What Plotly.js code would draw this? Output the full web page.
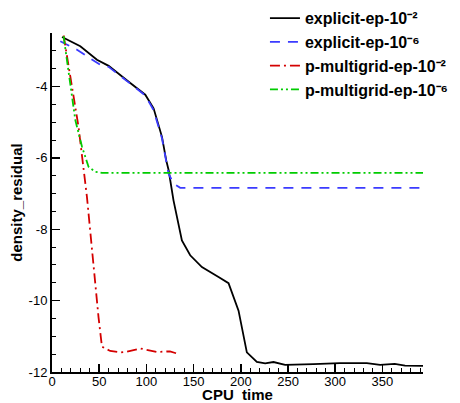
<!DOCTYPE html>
<html>
<head>
<meta charset="utf-8">
<script src="https://cdn.plot.ly/plotly-3.0.1.min.js"></script>
<style>html,body{margin:0;padding:0;background:#fff;}#chart{width:460px;height:403px;}</style>
</head>
<body>
<div id="chart"></div>
<script>
var seriesNames = ["explicit-ep-10⁻²", "explicit-ep-10⁻⁶", "p-multigrid-ep-10⁻²", "p-multigrid-ep-10⁻⁶"];

var explicit2X = [10.6, 30, 47.6, 60, 82.9, 98.8, 107.6, 116.5, 121, 123.5, 128.7, 137.6, 146.4, 158.8, 176.4, 187, 197.6, 206.4, 217, 225.8, 234.6, 247, 277, 305, 333.5, 347.6, 363, 374, 393];
var explicit2Y = [-2.61, -2.87, -3.25, -3.42, -3.90, -4.23, -4.61, -5.41, -6.07, -6.34, -7.19, -8.31, -8.73, -9.06, -9.34, -9.51, -10.28, -11.45, -11.72, -11.76, -11.72, -11.8, -11.78, -11.75, -11.75, -11.8, -11.77, -11.82, -11.83];

var explicit6X = [8.8, 26.5, 51, 60, 82.9, 98.8, 107.6, 116.5, 121, 123.5, 128.7, 135.8, 393];
var explicit6Y = [-2.73, -2.97, -3.39, -3.45, -3.92, -4.25, -4.66, -5.45, -6.1, -6.44, -6.72, -6.84, -6.84];

var pmg2X = [12.3, 21.2, 28.1, 37, 44, 49.3, 52.9, 61.7, 72.3, 79.4, 93.5, 111, 125, 132];
var pmg2Y = [-2.57, -4.0, -5.13, -7.09, -9.06, -10.47, -11.29, -11.41, -11.45, -11.43, -11.34, -11.44, -11.42, -11.48];

var pmg6X = [12.3, 19.4, 24.7, 31.8, 38.7, 45.8, 52.9, 393];
var pmg6Y = [-2.59, -3.9, -4.94, -5.69, -6.25, -6.39, -6.42, -6.42];

var xTickVals = [0, 50, 100, 150, 200, 250, 300, 350];
var yTickVals = [-12, -10, -8, -6, -4];

var traces = [
  {x: explicit2X, y: explicit2Y, name: seriesNames[0], mode: "lines", line: {color: "#000000", width: 1.8}},
  {x: explicit6X, y: explicit6Y, name: seriesNames[1], mode: "lines", line: {color: "#3b3bff", width: 1.8, dash: "10px,8px"}},
  {x: pmg2X, y: pmg2Y, name: seriesNames[2], mode: "lines", line: {color: "#d40000", width: 1.8, dash: "10px,4px,2px,4px"}},
  {x: pmg6X, y: pmg6Y, name: seriesNames[3], mode: "lines", line: {color: "#00cc00", width: 1.8, dash: "8px,3px,2px,3px,2px,3px"}}
];

var fontFam = "Liberation Sans, Arial, Helvetica, sans-serif";
var layout = {
  width: 460, height: 403,
  margin: {l: 52, r: 37, t: 33, b: 31, autoexpand: false},
  paper_bgcolor: "#ffffff", plot_bgcolor: "#ffffff",
  font: {family: fontFam, size: 13, color: "#000"},
  showlegend: true,
  legend: {
    x: 0.574, y: 1.094, xanchor: "left", yanchor: "top",
    bgcolor: "rgba(0,0,0,0)", borderwidth: 0,
    font: {family: fontFam, size: 16, color: "#000", weight: "bold"},
    tracegroupgap: 0
  },
  xaxis: {
    range: [0, 393], showgrid: false, zeroline: false,
    showline: true, linecolor: "#000", linewidth: 2, mirror: false,
    tickvals: xTickVals, ticktext: xTickVals.map(String),
    ticks: "inside", ticklen: 8, tickwidth: 1.5, tickcolor: "#000",
    ticklabelstandoff: -4,
    minor: {dtick: 10, tick0: 0, ticks: "inside", ticklen: 4, tickwidth: 1, tickcolor: "#000", showgrid: false},
    tickfont: {family: fontFam, size: 13},
    title: {text: "CPU  time", font: {family: fontFam, size: 15, weight: "bold"}, standoff: 10}
  },
  yaxis: {
    range: [-12, -2.5], showgrid: false, zeroline: false,
    showline: true, linecolor: "#000", linewidth: 2, mirror: false,
    tickvals: yTickVals, ticktext: yTickVals.map(String),
    ticks: "inside", ticklen: 8, tickwidth: 1.5, tickcolor: "#000",
    minor: {dtick: 0.5, tick0: 0, ticks: "inside", ticklen: 4, tickwidth: 1, tickcolor: "#000", showgrid: false},
    tickfont: {family: fontFam, size: 13},
    title: {text: "density_residual", font: {family: fontFam, size: 15, weight: "bold"}, standoff: 2}
  }
};

Plotly.newPlot("chart", traces, layout, {displayModeBar: false, staticPlot: true});
</script>
</body>
</html>
